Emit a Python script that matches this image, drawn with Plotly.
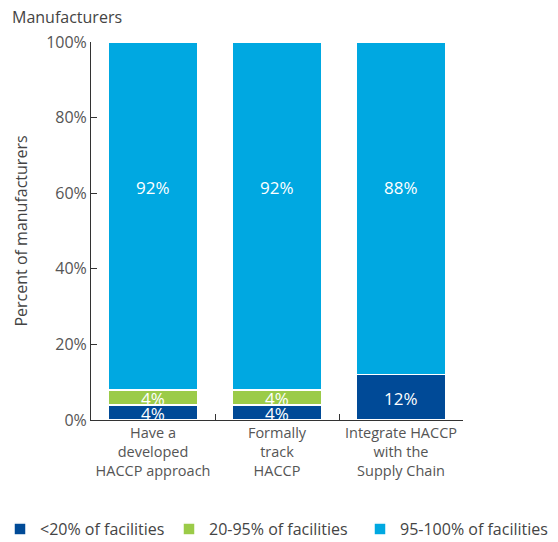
import plotly.graph_objects as go

# Share of manufacturers by coverage of facilities
categories = ["Have a<br>developed<br>HACCP approach",
              "Formally<br>track<br>HACCP",
              "Integrate HACCP<br>with the<br>Supply Chain"]
series_names = ["<20% of facilities", "20-95% of facilities", "95-100% of facilities"]
low = [4, 4, 12]
mid = [4, 4, 0]
high = [92, 92, 88]
colors = ["#004a97", "#9bcb48", "#00a8e1"]
y_ticks = [0, 20, 40, 60, 80, 100]
y_tick_labels = ["0%", "20%", "40%", "60%", "80%", "100%"]

FONT = "Open Sans, Noto Sans, sans-serif"
GREY = "#555555"
W, H = 558, 542

# one legend per series so the entries sit in a single row across the foot
legend_ids = ["legend", "legend2", "legend3"]
legend_left = [0, 169, 360]

fig = go.Figure()
for name, vals, col, lid in zip(series_names, [low, mid, high], colors, legend_ids):
    fig.add_trace(go.Bar(
        x=categories, y=vals, name=name, legend=lid,
        marker=dict(color=col, line=dict(color="white", width=1.5)),
        width=0.72,
    ))

# Value labels inside segments
annotations = []
for i, cat in enumerate(categories):
    base = 0
    for vals in (low, mid):
        v = vals[i]
        if v > 0:
            annotations.append(dict(x=cat, y=base + v / 2, text=f"{v}%", showarrow=False,
                                    font=dict(color="white", size=17, family=FONT), yshift=-1))
        base += v
    annotations.append(dict(x=cat, y=61.5, text=f"{high[i]}%", showarrow=False,
                            font=dict(color="white", size=17, family=FONT)))

legend_style = dict(orientation="h", xref="container", yref="container",
                    xanchor="left", y=13 / H, yanchor="middle",
                    font=dict(size=16, color="#444444", family=FONT),
                    itemwidth=30, bgcolor="rgba(0,0,0,0)")

layout_legends = {lid: dict(legend_style, x=left / W) for lid, left in zip(legend_ids, legend_left)}

fig.update_layout(
    barmode="stack",
    width=W, height=H,
    margin=dict(l=91, r=95, t=42, b=122, autoexpand=False),
    plot_bgcolor="white", paper_bgcolor="white",
    font=dict(family=FONT, size=15, color=GREY),
    title=dict(text="Manufacturers", x=12 / W, xref="container", xanchor="left",
               y=1 - 17 / H, yref="container", yanchor="middle",
               font=dict(size=16, color="#444444", family=FONT)),
    showlegend=True,
    annotations=annotations,
    xaxis=dict(
        automargin=False,
        showline=True, linecolor="#333333", linewidth=1,
        ticks="inside", tickson="boundaries", ticklen=6, tickcolor="#333333",
        tickfont=dict(size=14.5, color=GREY, family=FONT),
        showgrid=False,
    ),
    yaxis=dict(
        automargin=False,
        range=[0, 100], tickvals=y_ticks, ticktext=y_tick_labels,
        showline=True, linecolor="#333333", linewidth=1,
        ticks="inside", ticklen=6, tickcolor="#333333",
        tickfont=dict(size=16, color=GREY, family=FONT),
        showgrid=False, zeroline=False,
        title=dict(text="Percent of manufacturers", font=dict(size=16, color="#444444", family=FONT),
                   standoff=14),
    ),
    **layout_legends,
)

fig.write_html("out.html")
